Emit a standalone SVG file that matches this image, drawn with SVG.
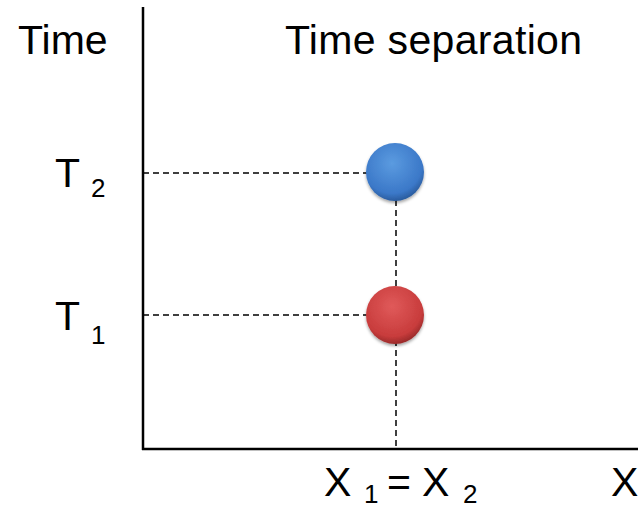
<svg xmlns="http://www.w3.org/2000/svg" width="643" height="510" viewBox="0 0 643 510">
<defs>
<radialGradient id="gb" cx="0.45" cy="0.35" r="0.65">
<stop offset="0" stop-color="#5b9be0"/><stop offset="0.8" stop-color="#3b78c8"/><stop offset="1" stop-color="#2a5c9e"/>
</radialGradient>
<radialGradient id="gr" cx="0.45" cy="0.35" r="0.65">
<stop offset="0" stop-color="#e05a5a"/><stop offset="0.8" stop-color="#c83c3c"/><stop offset="1" stop-color="#9a2a2a"/>
</radialGradient>
<filter id="sh" x="-30%" y="-30%" width="160%" height="160%"><feDropShadow dx="0" dy="2" stdDeviation="1.5" flood-color="#000" flood-opacity="0.35"/></filter>
</defs>
<style>
text{font-family:"Liberation Sans",Arial,sans-serif;fill:#000}
.big{font-size:41px}
.sub{font-size:26px}
.axis{stroke:#000;stroke-width:2.5;fill:none}
.dash{stroke:#000;stroke-width:1.5;stroke-dasharray:6,4;fill:none}
</style>
<g id="connectors">
<line class="dash" x1="143" y1="173" x2="367" y2="173"/>
<line class="dash" x1="143" y1="315" x2="367" y2="315"/>
<line class="dash" x1="396" y1="200" x2="396" y2="449"/>
</g>
<g id="axes">
<line class="axis" x1="143" y1="7" x2="143" y2="450"/>
<line class="axis" x1="142" y1="449" x2="638" y2="449"/>
</g>
<g id="node-blue"><circle cx="395" cy="172" r="29" fill="url(#gb)" filter="url(#sh)"/></g>
<g id="node-red"><circle cx="395" cy="315" r="29" fill="url(#gr)" filter="url(#sh)"/></g>
<g id="labels">
<text class="big" x="18" y="54">Time</text>
<text class="big" x="285" y="54" textLength="297" lengthAdjust="spacing">Time separation</text>
<text class="big" x="55" y="187">T</text><text class="sub" x="91" y="197">2</text>
<text class="big" x="55" y="330">T</text><text class="sub" x="91" y="344">1</text>
<text class="big" x="324" y="496">X</text><text class="sub" x="364" y="503">1</text>
<text class="big" x="387" y="496">=</text>
<text class="big" x="422" y="496">X</text><text class="sub" x="463" y="503">2</text>
<text class="big" x="611" y="496">X</text>
</g>
</svg>
